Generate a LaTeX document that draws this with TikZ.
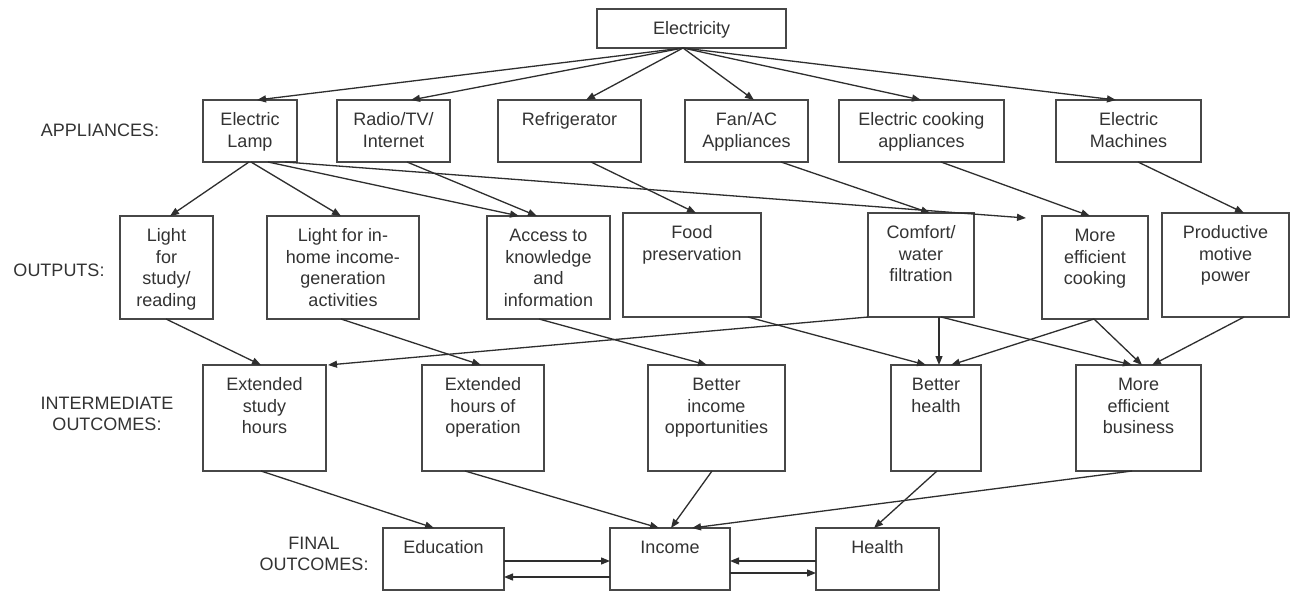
\documentclass[tikz,border=0pt]{standalone}
\usepackage{fontspec}
\setmainfont{Liberation Sans}
\usetikzlibrary{arrows.meta}
\newcommand{\fs}{\fontsize{18}{21.5}\selectfont}
\tikzset{
  box/.style={draw=black!72, line width=1.7pt, inner sep=0pt, outer sep=0pt, anchor=north west, text=black!80, font=\fs},
  lab/.style={inner sep=0pt, align=center, text=black!80, font=\fs},
  arr/.style={draw=black!82, line width=1.3pt, -{Triangle[length=9pt,width=7pt]}}
}
\newcommand{\B}[6]{\node[box] (#1) at (#2,#3) {\parbox[c][#5pt][t]{#4pt}{\centering\rule{0pt}{25.5pt}#6}};}
\begin{document}
\begin{tikzpicture}[x=1pt,y=-1pt]
\useasboundingbox[fill=white] (0,0) rectangle (1294,592);
% top
\B{elec}{597}{9}{189}{39}{Electricity}
% appliances
\B{lamp}{203}{100}{94}{62}{Electric\\Lamp}
\B{radio}{337}{100}{113}{62}{Radio/TV/\\Internet}
\B{fridge}{498}{100}{143}{62}{Refrigerator}
\B{fan}{685}{100}{123}{62}{Fan/AC\\Appliances}
\B{cook}{839}{100}{165}{62}{Electric cooking\\appliances}
\B{mach}{1056}{100}{145}{62}{Electric\\Machines}
% outputs
\B{lstudy}{120}{216}{93}{103}{Light\\for\\study/\\reading}
\B{lhome}{267}{216}{152}{103}{Light for in-\\home income-\\generation\\activities}
\B{access}{487}{216}{123}{103}{Access to\\knowledge\\and\\information}
\B{food}{623}{213}{138}{104}{Food\\preservation}
\B{comfort}{868}{213}{106}{104}{Comfort/\\water\\filtration}
\B{effcook}{1042}{216}{106}{103}{More\\efficient\\cooking}
\B{prod}{1162}{213}{127}{104}{Productive\\motive\\power}
% intermediate
\B{estudy}{203}{365}{123}{106}{Extended\\study\\hours}
\B{ehours}{422}{365}{122}{106}{Extended\\hours of\\operation}
\B{bincome}{648}{365}{137}{106}{Better\\income\\opportunities}
\B{bhealth}{891}{365}{90}{106}{Better\\health}
\B{ebiz}{1076}{365}{125}{106}{More\\efficient\\business}
% final
\B{edu}{383}{528}{121}{62}{Education}
\B{inc}{610}{528}{120}{62}{Income}
\B{hlth}{816}{528}{123}{62}{Health}
% row labels
\node[lab] (lapp) at (100,130) {APPLIANCES:};
\node[lab] (lout) at (59,270) {OUTPUTS:};
\node[lab] (lint) at (107,414) {INTERMEDIATE\\OUTCOMES:};
\node[lab] (lfin) at (314,554) {FINAL\\OUTCOMES:};
% free end
\coordinate (free) at (1026,218);
% electricity -> appliances
\draw[arr] ([xshift=86pt]elec.south west) -- ([xshift=54pt]lamp.north west);
\draw[arr] ([xshift=86pt]elec.south west) -- ([xshift=74pt]radio.north west);
\draw[arr] ([xshift=86pt]elec.south west) -- ([xshift=88pt]fridge.north west);
\draw[arr] ([xshift=86pt]elec.south west) -- ([xshift=69pt]fan.north west);
\draw[arr] ([xshift=86pt]elec.south west) -- ([xshift=82pt]cook.north west);
\draw[arr] ([xshift=86pt]elec.south west) -- ([xshift=60pt]mach.north west);
% appliances -> outputs
\draw[arr] ([xshift=46pt]lamp.south west) -- ([xshift=50pt]lstudy.north west);
\draw[arr] ([xshift=48pt]lamp.south west) -- ([xshift=74pt]lhome.north west);
\draw[arr] ([xshift=65pt]lamp.south west) -- ([xshift=32pt]access.north west);
\draw[arr] ([xshift=82pt]lamp.south west) -- (free);
\draw[arr] ([xshift=70pt]radio.south west) -- ([xshift=50pt]access.north west);
\draw[arr] ([xshift=93pt]fridge.south west) -- ([xshift=73pt]food.north west);
\draw[arr] ([xshift=96pt]fan.south west) -- ([xshift=62pt]comfort.north west);
\draw[arr] ([xshift=102pt]cook.south west) -- ([xshift=48pt]effcook.north west);
\draw[arr] ([xshift=82pt]mach.south west) -- ([xshift=82pt]prod.north west);
% outputs -> intermediate
\draw[arr] ([xshift=46pt]lstudy.south west) -- ([xshift=58pt]estudy.north west);
\draw[arr] ([xshift=74pt]lhome.south west) -- ([xshift=59pt]ehours.north west);
\draw[arr] ([xshift=52pt]access.south west) -- ([xshift=59pt]bincome.north west);
\draw[arr] (comfort.south west) -- ([xshift=2pt]estudy.north east);
\draw[arr] ([xshift=125pt]food.south west) -- ([xshift=35pt]bhealth.north west);
\draw[arr] ([xshift=71pt]comfort.south west) -- ([xshift=48pt]bhealth.north west);
\draw[arr] ([xshift=73pt]comfort.south west) -- ([xshift=56pt]ebiz.north west);
\draw[arr] ([xshift=52pt]effcook.south west) -- ([xshift=60pt]bhealth.north west);
\draw[arr] ([xshift=52pt]effcook.south west) -- ([xshift=66pt]ebiz.north west);
\draw[arr] ([xshift=82pt]prod.south west) -- ([xshift=76pt]ebiz.north west);
% intermediate -> final
\draw[arr] ([xshift=58pt]estudy.south west) -- ([xshift=51pt]edu.north west);
\draw[arr] ([xshift=43pt]ehours.south west) -- ([xshift=49pt]inc.north west);
\draw[arr] ([xshift=64pt]bincome.south west) -- ([xshift=61pt]inc.north west);
\draw[arr] ([xshift=56pt]ebiz.south west) -- ([xshift=82pt]inc.north west);
\draw[arr] ([xshift=46pt]bhealth.south west) -- ([xshift=58pt]hlth.north west);
% final links
\draw[arr] ([yshift=-33pt]edu.north east) -- ([yshift=-33pt]inc.north west);
\draw[arr] ([yshift=-49pt]inc.north west) -- ([yshift=-49pt]edu.north east);
\draw[arr] ([yshift=-33pt]hlth.north west) -- ([yshift=-33pt]inc.north east);
\draw[arr] ([yshift=-45pt]inc.north east) -- ([yshift=-45pt]hlth.north west);
\end{tikzpicture}
\end{document}
